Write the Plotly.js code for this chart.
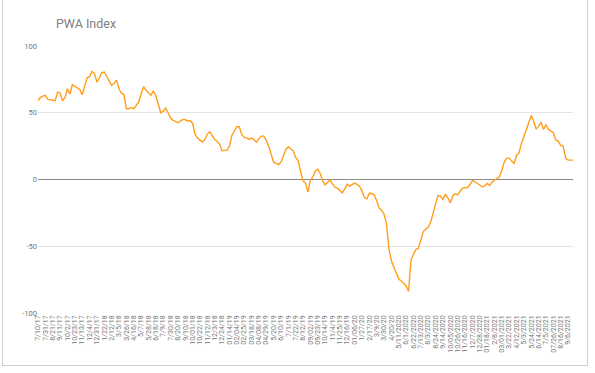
<!DOCTYPE html>
<html>
<head>
<meta charset="utf-8">
<script src="https://cdn.plot.ly/plotly-3.0.1.min.js"></script>
<style>
  html, body { margin: 0; padding: 0; background: #fff; }
  #wrap { position: relative; width: 595px; height: 373px; }
  #chart { width: 595px; height: 373px; }
  #frame { position: absolute; left: 2px; top: -1px; width: 586px; height: 367px; border: 1px solid #d0d0d0; pointer-events: none; box-sizing: border-box; }
</style>
</head>
<body>
<div id="wrap">
  <div id="chart"></div>
  <div id="frame"></div>
</div>
<script>
// Tick labels shown every 3rd weekly observation
const tickLabels = [
  "7/10/17","7/31/17","8/21/17","9/11/17","10/2/17","10/23/17","11/13/17","12/4/17","12/31/17","1/22/18",
  "2/12/18","3/5/18","3/26/18","4/16/18","5/7/18","5/28/18","6/18/18","7/9/18","7/30/18","8/20/18",
  "9/10/18","10/01/18","10/22/18","11/12/18","12/3/18","12/24/18","01/14/19","02/04/19","02/25/19","03/18/19",
  "04/08/19","04/29/19","5/20/19","6/10/19","7/1/19","7/22/19","8/12/19","09/02/19","09/23/19","10/14/19",
  "11/4/19","11/25/19","12/16/19","01/06/20","1/27/20","2/17/20","3/9/20","3/30/20","4/20/20","5/11/2020",
  "6/1/2020","6/22/2020","7/13/2020","8/3/2020","8/24/2020","9/14/2020","10/05/2020","10/26/2020","11/16/2020","12/7/2020",
  "12/28/2020","01/18/2021","2/8/2021","03/01/2021","3/22/2021","4/12/2021","5/3/2021","5/24/2021","6/14/2021","7/5/2021",
  "07/26/2021","8/16/2021","9/6/2021"
];

// PWA Index weekly values
const pwaIndex = [
  59,61.5,62.5,63,60,59.5,59,59,65.5,65,
  59,61.5,68,64,71,70,68.5,67.5,63.5,70,
  76.2,77,81,79.5,73,76,80,80.5,77.5,74.5,
  70.5,72,74.5,68,64.5,64,53,53,54,53,
  55.5,58,64,69.5,67,65,63,66.5,62.5,56.5,
  50,51,53.5,50,46,44.5,43.5,42.5,43.7,45,
  45,43.7,44.2,42,34,31,29.5,28,30,34,
  35.7,32.5,30,28.7,26.5,21.5,21.5,22,25,33,
  36.3,39.5,39.5,34,31.5,31.2,30,31,30,28,
  30.5,32.5,32.5,29.5,25,18.5,13,12,11.2,13,
  18,22.5,24.5,23,21.5,16.5,14.2,6,-1.2,-2.5,
  -9.5,-0.5,2,6.5,7.7,4.5,-1,-4,-2.5,-0.3,
  -3.5,-5.7,-6.5,-8.5,-10,-7,-3.5,-5,-3.5,-2.7,
  -3.6,-5,-8.5,-13.5,-14.5,-10.3,-10.5,-11.5,-16,-21.5,
  -23,-26,-33,-52,-61,-66,-71,-74.5,-76,-78,
  -79.5,-83.7,-60,-56,-52.3,-51.7,-45,-39,-37.3,-35.8,
  -31.8,-25,-18,-12,-12.5,-15,-11,-13.7,-17.5,-12.3,
  -10.5,-11.5,-8.8,-6.4,-6.2,-6,-4,-0.8,-1.5,-3,
  -4,-5.5,-5,-3,-4.5,-2,-0.5,0.5,1.8,7,
  13,16,16,13.8,12,18,20,27,32,37.5,
  43,48,43.5,37.7,40,43,37.5,41.2,37.5,36,
  35,29.5,28.8,25.5,25,16,14.5,14.5,14.5
];

const yTicks = [-100, -50, 0, 50, 100];
const labelStep = 3;

const xIdx = pwaIndex.map((_, i) => i);
const tickVals = tickLabels.map((_, i) => i * labelStep);

const trace = {
  x: xIdx,
  y: pwaIndex,
  type: 'scatter',
  mode: 'lines',
  line: { color: '#ff9e1b', width: 1.4 },
  hoverinfo: 'y'
};

const layout = {
  width: 595,
  height: 373,
  margin: { l: 38, r: 22, t: 46, b: 60 },
  paper_bgcolor: '#ffffff',
  plot_bgcolor: '#ffffff',
  showlegend: false,
  font: { family: 'Roboto, Arial, sans-serif', color: '#616161' },
  title: {
    text: 'PWA Index',
    x: 20 / 595, xanchor: 'left', xref: 'paper',
    y: 1 - 24 / 373, yanchor: 'middle', yref: 'container',
    font: { family: 'Roboto, Arial, sans-serif', size: 12.5, color: '#808080', weight: 'normal' }
  },
  xaxis: {
    range: [0, pwaIndex.length - 1],
    tickmode: 'array',
    tickvals: tickVals,
    ticktext: tickLabels,
    tickangle: -90,
    tickfont: { size: 7, color: '#757575' },
    showgrid: false,
    zeroline: false,
    showline: false,
    ticks: '',
    fixedrange: true
  },
  yaxis: {
    range: [-100, 100],
    tickmode: 'array',
    tickvals: yTicks,
    ticktext: yTicks.map(String),
    tickfont: { size: 7.5, color: '#757575' },
    showgrid: true,
    gridcolor: '#e3e3e3',
    gridwidth: 1,
    zeroline: true,
    zerolinecolor: '#8a8a8a',
    zerolinewidth: 1,
    showline: false,
    ticks: '',
    ticklen: 0,
    fixedrange: true
  }
};

Plotly.newPlot('chart', [trace], layout, { displayModeBar: false, staticPlot: true });
</script>
</body>
</html>
